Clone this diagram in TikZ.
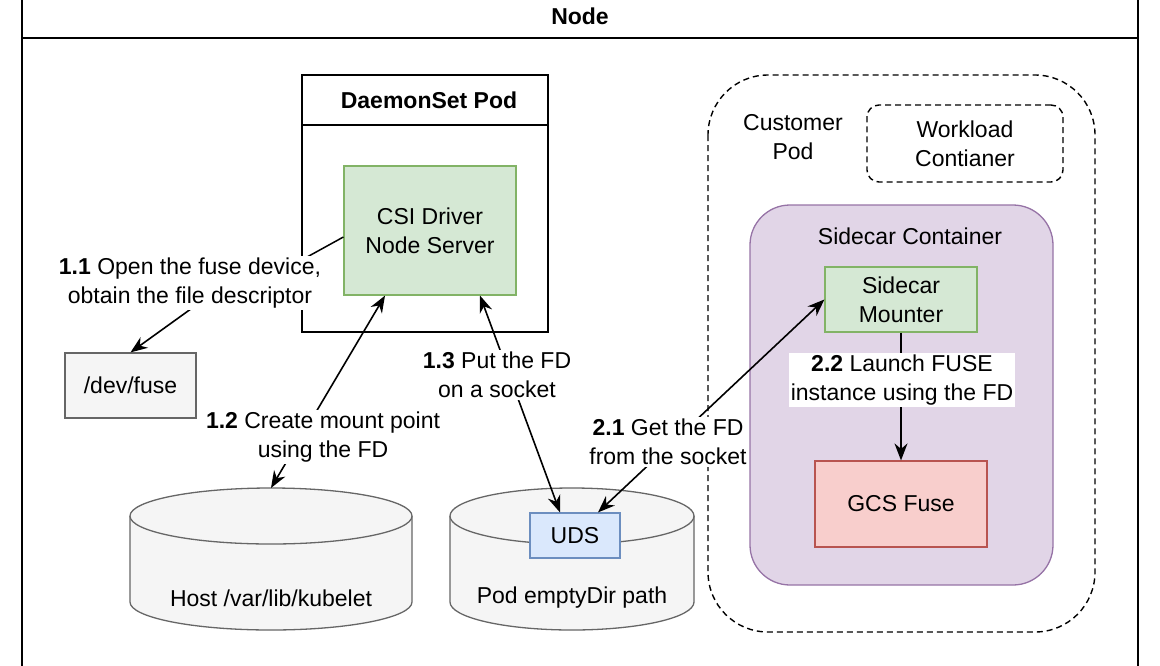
\documentclass[tikz,border=0pt]{standalone}
\usepackage{fontspec}
\setmainfont{Liberation Sans}
\usetikzlibrary{arrows.meta}
\definecolor{gfill}{HTML}{D5E8D4}\definecolor{gline}{HTML}{82B366}
\definecolor{bfill}{HTML}{DAE8FC}\definecolor{bline}{HTML}{6C8EBF}
\definecolor{pfill}{HTML}{E1D5E7}\definecolor{pline}{HTML}{9673A6}
\definecolor{rfill}{HTML}{F8CECC}\definecolor{rline}{HTML}{B85450}
\definecolor{cfill}{HTML}{F5F5F5}\definecolor{cline}{HTML}{666666}
\begin{document}
\begin{tikzpicture}[x=1pt,y=-1pt,
  every node/.style={font=\fontsize{23}{29}\selectfont,align=center,inner sep=0},
  lbl/.style={fill=white,inner sep=2pt},
  dsh/.style={dash pattern=on 6pt off 4pt},
  arr/.style={line width=1.6pt,-{Stealth[length=17pt,width=13pt]}},
  arr2/.style={line width=1.6pt,{Stealth[length=17pt,width=13pt]}-{Stealth[length=17pt,width=13pt]}}]
\useasboundingbox (0,0) rectangle (1160,665);
\begin{scope}
\clip (0,0) rectangle (1160,665);
\draw[line width=1.5pt] (22,-5) rectangle (1138,675);
\draw[line width=1.5pt] (22,38) -- (1138,38);
\end{scope}
\node[font=\fontsize{23}{29}\selectfont\bfseries] (title) at (580,16) {Node};
% DaemonSet
\draw[line width=1.5pt] (302,75) rectangle (548,332);
\draw[line width=1.5pt] (302,125) -- (548,125);
\node[font=\fontsize{23}{29}\selectfont\bfseries] (ds) at (429,100) {DaemonSet Pod};
\node[draw=gline,fill=gfill,line width=1.2pt,minimum width=172pt,minimum height=129pt] (csi) at (430,230.5) {CSI Driver\\Node Server};
\node[draw=cline,fill=cfill,line width=1.2pt,minimum width=131pt,minimum height=65pt] (dev) at (130.5,385.5) {/dev/fuse};
% cylinders
\foreach \cx/\rx in {271/141, 572/122}{
  \draw[draw=cline,fill=cfill,line width=1.3pt] (\cx-\rx,516) -- (\cx-\rx,602) arc[start angle=180,end angle=0,x radius=\rx,y radius=28] -- (\cx+\rx,516);
  \draw[draw=cline,fill=cfill,line width=1.3pt] (\cx,516) ellipse[x radius=\rx,y radius=28];
}
\node (host) at (271,598) {Host /var/lib/kubelet};
\node (pod) at (572,598) {Pod emptyDir path};
\coordinate (hosttop) at (271,488);
\node[draw=bline,fill=bfill,line width=1.2pt,minimum width=90pt,minimum height=45pt] (uds) at (575,535.5) {UDS};
% customer pod
\draw[dsh,line width=1.4pt,rounded corners=60pt] (708,75) rectangle (1095,632);
\node (cp) at (793,137) {Customer\\Pod};
\node[draw,dsh,line width=1.4pt,rounded corners=12pt,minimum width=196pt,minimum height=77pt] (wl) at (965,143.5) {Workload\\Contianer};
\node[draw=pline,fill=pfill,line width=1.3pt,rounded corners=40pt,minimum width=303pt,minimum height=380pt] (sc) at (901.5,395) {};
\node (sct) at (910,236) {Sidecar Container};
\node[draw=gline,fill=gfill,line width=1.2pt,minimum width=152pt,minimum height=65pt] (sm) at (901,299.5) {Sidecar\\Mounter};
\node[draw=rline,fill=rfill,line width=1.2pt,minimum width=172pt,minimum height=86pt] (gcs) at (901,504) {GCS Fuse};
% edges
\draw[line width=1.5pt] (csi.west|-0,237) -- (298,262);
\draw[arr] (195,306) -- (dev.north);
\node[lbl] (l11) at (190,283) {\textbf{1.1} Open the fuse device,\\obtain the file descriptor};
\draw[arr2] ([xshift=-45pt]csi.south) -- (hosttop);
\node[lbl] (l12) at (323,437) {\textbf{1.2} Create mount point\\using the FD};
\draw[arr2] ([xshift=50pt]csi.south) -- ([xshift=-15pt]uds.north);
\node[lbl] (l13) at (497,375) {\textbf{1.3} Put the FD\\on a socket};
\draw[arr2] ([xshift=23pt]uds.north) -- (sm.west);
\node[lbl] (l21) at (668,442) {\textbf{2.1} Get the FD\\from the socket};
\draw[arr] (sm.south) -- (gcs.north);
\node[lbl] (l22) at (902,380) {\textbf{2.2} Launch FUSE\\instance using the FD};
\end{tikzpicture}
\end{document}
